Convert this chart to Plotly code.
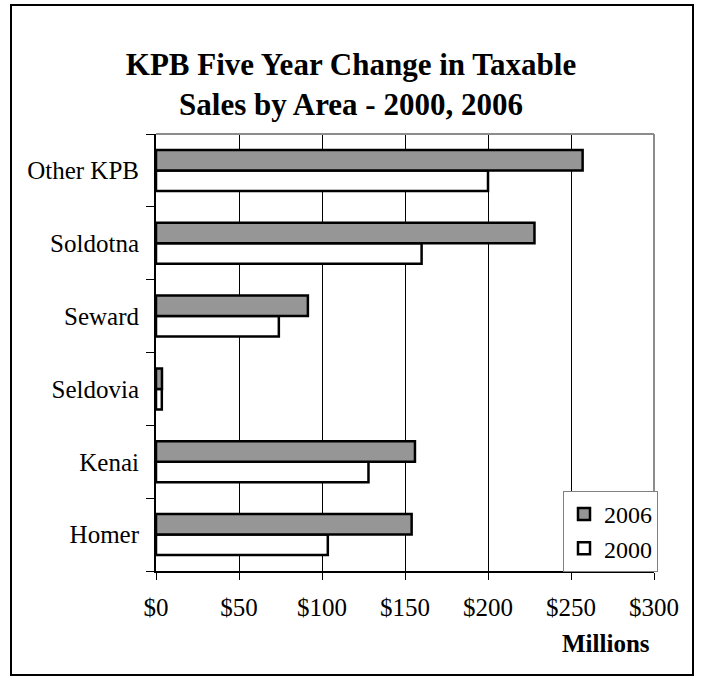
import plotly.graph_objects as go

categories = ["Homer", "Kenai", "Seldovia", "Seward", "Soldotna", "Other KPB"]
sales_2006 = [154, 156, 3.6, 91.5, 228, 257]
sales_2000 = [103.5, 128, 3.5, 74, 160, 200]
x_tickvals = [0, 50, 100, 150, 200, 250, 300]
x_ticktext = ["$0", "$50", "$100", "$150", "$200", "$250", "$300"]

FONT = "Liberation Serif"

fig = go.Figure()
fig.add_trace(go.Bar(
    y=categories, x=sales_2000, orientation="h", name="2000",
    marker=dict(color="white", line=dict(color="black", width=2.5)),
))
fig.add_trace(go.Bar(
    y=categories, x=sales_2006, orientation="h", name="2006",
    marker=dict(color="#969696", line=dict(color="black", width=2.5)),
))

W, H = 702, 680
L, R, T, B = 156, 48, 134, 109
pw, ph = W - L - R, H - T - B

def px(xp):
    return (xp - L) / pw

def py(yp):
    return (H - B - yp) / ph

fig.update_layout(
    width=W, height=H,
    margin=dict(l=L, r=R, t=T, b=B, pad=0),
    paper_bgcolor="white", plot_bgcolor="white",
    barmode="group", bargap=0.437, bargroupgap=0,
    font=dict(family=FONT, size=24, color="black"),
    title=dict(
        text="<b>KPB Five Year Change in Taxable<br>Sales by Area - 2000, 2006</b>",
        font=dict(family=FONT, size=31, color="black"),
        x=0.5, xref="container", xanchor="center",
        y=1 - 75 / H, yref="container", yanchor="middle",
    ),
    xaxis=dict(
        range=[0, 300], tickvals=x_tickvals, ticktext=x_ticktext,
        showgrid=True, gridcolor="black", gridwidth=1,
        showline=True, linecolor="black", linewidth=2,
        ticks="outside", ticklen=7, tickcolor="black", tickwidth=1,
        ticklabelstandoff=6,
        zeroline=False, fixedrange=True,
        tickfont=dict(family=FONT, size=25, color="black"),
    ),
    yaxis=dict(
        range=[-0.5, 5.5],
        showgrid=False,
        showline=True, linecolor="black", linewidth=2,
        ticks="outside", ticklen=8, tickcolor="black", tickwidth=1,
        tickson="boundaries",
        ticklabelstandoff=10,
        fixedrange=True,
        tickfont=dict(family=FONT, size=25, color="black"),
    ),
    legend=dict(
        x=px(563), y=py(491), xanchor="left", yanchor="top",
        bgcolor="white", bordercolor="#808080", borderwidth=1,
        traceorder="reversed",
        font=dict(family=FONT, size=24, color="black"),
        itemwidth=30, tracegroupgap=0,
    ),
    showlegend=True,
    annotations=[dict(
        text="<b>Millions</b>", x=px(606), y=py(643), xref="paper", yref="paper",
        xanchor="center", yanchor="middle", showarrow=False,
        font=dict(family=FONT, size=25, color="black"),
    )],
    shapes=[
        dict(type="line", xref="paper", yref="paper", x0=0, x1=1, y0=1, y1=1,
             line=dict(color="#8c8c8c", width=2), layer="above"),
        dict(type="line", xref="paper", yref="paper", x0=1, x1=1, y0=0, y1=1,
             line=dict(color="#8c8c8c", width=2), layer="above"),
        dict(type="rect", xref="paper", yref="paper",
             x0=px(11), x1=px(693), y0=py(675), y1=py(5),
             line=dict(color="black", width=2), fillcolor="rgba(0,0,0,0)"),
    ],
)

fig.write_html("out.html", config={"displayModeBar": False},
               post_script="document.body.style.margin='0px';")
